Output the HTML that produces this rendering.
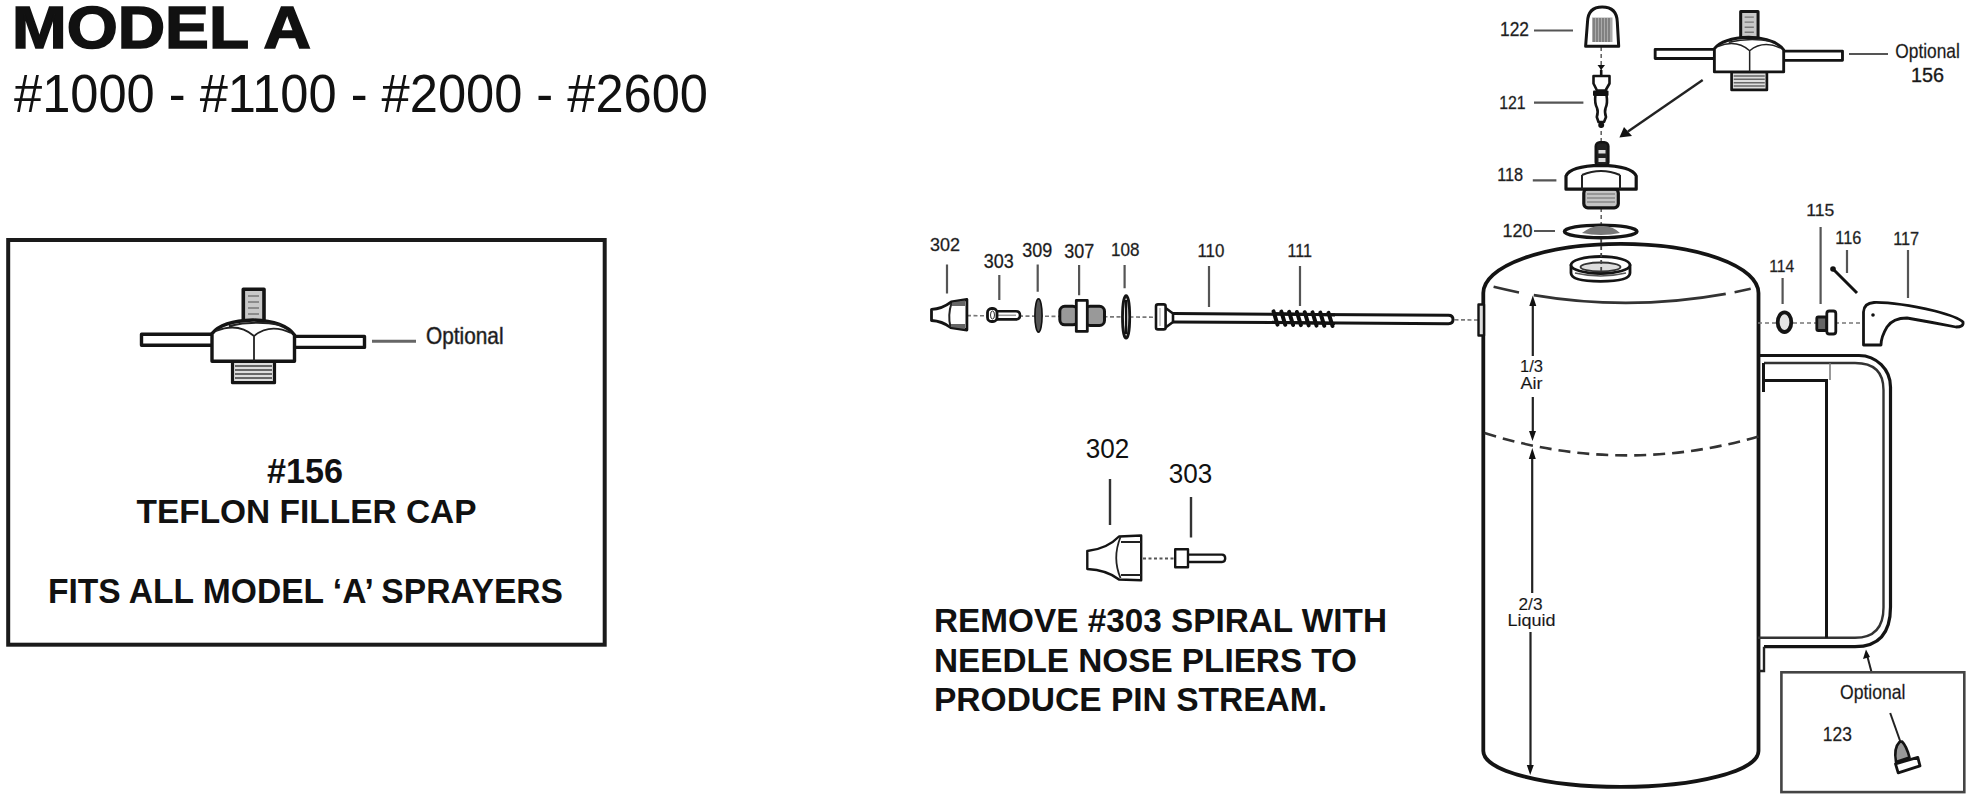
<!DOCTYPE html>
<html><head><meta charset="utf-8">
<style>
html,body{margin:0;padding:0;background:#fff;width:1973px;height:800px;overflow:hidden}
svg{position:absolute;left:0;top:0;display:block}
text{font-family:"Liberation Sans",sans-serif;fill:#111}
.b{font-weight:700}
.l{font-size:20px;fill:#505050;stroke:#505050;stroke-width:0.35}
.g{fill:none;stroke:#555;stroke-width:2.2}
.k{stroke:#141414;stroke-linejoin:round;stroke-linecap:round}
</style></head><body>
<svg width="1973" height="800" viewBox="0 0 1973 800">
<defs>
<g id="cap">
  <path class="k" d="M211.5,334.3 H141.5 V345.3 H211.5" fill="#fff" stroke-width="3.4"/>
  <path class="k" d="M294.5,336.4 H364.5 V347.4 H294.5" fill="#fff" stroke-width="3.4"/>
  <rect class="k" x="243.3" y="289.3" width="20.7" height="31.5" fill="#c8c8c8" stroke-width="3.6"/>
  <path d="M248,296 h11 M248,302 h11 M248,308 h11 M248,314 h11" stroke="#777" stroke-width="1.6"/>
  <rect class="k" x="232.5" y="361.2" width="42" height="21.5" fill="#ddd" stroke-width="3.2"/>
  <path d="M235,366 h37 M235,370 h37 M235,374 h37 M235,378 h37" stroke="#666" stroke-width="1.8"/>
  <path class="k" d="M212,361.2 V333.6 Q222,321 253,320 Q284,321 294.5,335 V361.2 Z" fill="#fff" stroke-width="3.4"/>
  <path d="M254,336 V361 M216,331 Q238,322 254,336 Q270,323 291,333 M229,326 Q254,320 281,325" stroke="#222" stroke-width="1.8" fill="none"/>
</g>
</defs>

<!-- ===== TEXTS ===== -->
<text class="b" x="12" y="47.5" font-size="60" textLength="299" lengthAdjust="spacingAndGlyphs" stroke="#111" stroke-width="1.6">MODEL A</text>
<text x="14" y="112" font-size="53.5" textLength="694" lengthAdjust="spacingAndGlyphs">#1000 - #1100 - #2000 - #2600</text>
<text class="b" x="267" y="482.5" font-size="34.5" textLength="76" lengthAdjust="spacingAndGlyphs">#156</text>
<text class="b" x="136.5" y="522.5" font-size="34" textLength="340" lengthAdjust="spacingAndGlyphs">TEFLON FILLER CAP</text>
<text class="b" x="48" y="602.5" font-size="34.5" textLength="515" lengthAdjust="spacingAndGlyphs">FITS ALL MODEL ‘A’ SPRAYERS</text>
<text class="b" x="934" y="631.5" font-size="34" textLength="453" lengthAdjust="spacingAndGlyphs">REMOVE #303 SPIRAL WITH</text>
<text class="b" x="934" y="671.5" font-size="34" textLength="423" lengthAdjust="spacingAndGlyphs">NEEDLE NOSE PLIERS TO</text>
<text class="b" x="934" y="711" font-size="34" textLength="393" lengthAdjust="spacingAndGlyphs">PRODUCE PIN STREAM.</text>

<!-- ===== LEFT BOX ===== -->
<rect x="8.2" y="240" width="596.5" height="404.7" fill="none" stroke="#1a1a1a" stroke-width="4"/>
<use href="#cap"/>
<line x1="372" y1="341.3" x2="416" y2="341.3" stroke="#666" stroke-width="3"/>
<text x="426" y="343.8" font-size="24" textLength="77.5" lengthAdjust="spacingAndGlyphs" fill="#4a4a4a" stroke="#4a4a4a" stroke-width="0.6">Optional</text>

<!-- ===== TOP-RIGHT CAP ===== -->
<use href="#cap" transform="translate(1536.3,-231.5) scale(0.84)"/>
<line x1="1849" y1="54" x2="1888" y2="54" stroke="#555" stroke-width="2.2"/>
<text x="1895.3" y="57.5" font-size="20.5" textLength="64.5" lengthAdjust="spacingAndGlyphs" fill="#555" stroke="#555" stroke-width="0.3">Optional</text>
<text x="1911" y="81.8" font-size="20.5" textLength="33" lengthAdjust="spacingAndGlyphs" fill="#333" stroke="#333" stroke-width="0.4">156</text>
<!-- arrow -->
<line x1="1702.7" y1="80.1" x2="1628" y2="131.5" stroke="#222" stroke-width="2.4"/>
<path d="M1619.4,137.5 L1624,127 L1632,136 Z" fill="#111"/>

<!-- ===== TOP NOZZLE LINE ===== -->
<line x1="967" y1="315.6" x2="1478" y2="320" stroke="#777" stroke-width="1.6" stroke-dasharray="4 2.5"/>
<!-- 302 -->
<path class="k" d="M966.9,299.4 V330 L950.5,327.5 Q942,321 931.5,320.5 V309.4 Q942,309 951.3,301.9 Z" fill="#fff" stroke-width="2.8"/>
<path d="M951.5,303 Q947.5,315.6 950.5,327" stroke="#222" stroke-width="2" fill="none"/>
<path d="M952,302.5 L965,300.5 V306 H952 Z M951,324 H965 V329 L951,327 Z" fill="#666"/>
<!-- 303 -->
<path class="k" d="M997,311.2 H1016 Q1020,311.2 1020,315.3 Q1020,319.4 1016,319.4 H997" fill="#fff" stroke-width="2.6"/>
<line x1="998" y1="315.3" x2="1016" y2="315.3" stroke="#999" stroke-width="1.5"/>
<rect class="k" x="987.5" y="308.5" width="9.5" height="13" rx="4" fill="#fff" stroke-width="2.8"/>
<ellipse cx="992.5" cy="315" rx="2" ry="4" fill="#fff" stroke="#333" stroke-width="1"/>
<!-- 309 -->
<ellipse cx="1038.5" cy="315.5" rx="3.6" ry="16.6" fill="#555" stroke="#111" stroke-width="1.6"/>
<!-- 307 -->
<rect class="k" x="1059.8" y="306.3" width="18" height="18.5" rx="5" fill="#999" stroke-width="3"/>
<rect class="k" x="1085" y="306.3" width="19.5" height="19.2" rx="5" fill="#999" stroke-width="3"/>
<rect class="k" x="1076.3" y="300.4" width="11" height="31" fill="#fff" stroke-width="2.8"/>
<rect x="1079.5" y="310" width="5" height="13" fill="#fff"/>
<!-- 108 -->
<ellipse class="k" cx="1126.1" cy="316.9" rx="3.6" ry="21.3" fill="#fff" stroke-width="2.8"/>
<line x1="1126.1" y1="300" x2="1126.1" y2="334" stroke="#111" stroke-width="2.4"/>
<!-- 110 -->
<path class="k" d="M1173,313.5 L1448.5,315.3 Q1453,315.3 1453,319.5 Q1453,323.7 1448.5,323.7 L1173,322" fill="#fff" stroke-width="3"/>
<path class="k" d="M1165.6,308 L1173,313.5 V322 L1165.6,327.5" fill="#fff" stroke-width="2.6"/>
<rect class="k" x="1156" y="304.4" width="9.6" height="25" rx="2" fill="#fff" stroke-width="2.6"/>
<line x1="1160" y1="308" x2="1160" y2="326" stroke="#aaa" stroke-width="1.2"/>
<!-- 111 spring -->
<g stroke="#0d0d0d" stroke-width="4" stroke-linecap="round">
<line x1="1273.5" y1="311.4" x2="1277.5" y2="324.6"/>
<line x1="1281.3" y1="311.6" x2="1285.3" y2="324.8"/>
<line x1="1289.1" y1="311.8" x2="1293.1" y2="325.0"/>
<line x1="1296.9" y1="312.0" x2="1300.9" y2="325.2"/>
<line x1="1304.7" y1="312.2" x2="1308.7" y2="325.4"/>
<line x1="1312.5" y1="312.4" x2="1316.5" y2="325.6"/>
<line x1="1320.3" y1="312.6" x2="1324.3" y2="325.8"/>
<line x1="1328.5" y1="312.8" x2="1332.5" y2="326.0"/>
</g>
<line x1="1272" y1="313.6" x2="1335" y2="315" stroke="#111" stroke-width="3"/>
<line x1="1272" y1="322.2" x2="1335" y2="323.6" stroke="#111" stroke-width="3"/>

<!-- top line labels -->
<g class="l">
<text x="930" y="251" textLength="30" lengthAdjust="spacingAndGlyphs" font-size="18.5">302</text>
<text x="983.8" y="268.3" textLength="30" lengthAdjust="spacingAndGlyphs" font-size="20">303</text>
<text x="1022.3" y="257.4" textLength="30" lengthAdjust="spacingAndGlyphs" font-size="19.5">309</text>
<text x="1064.3" y="258" textLength="30" lengthAdjust="spacingAndGlyphs" font-size="20">307</text>
<text x="1110.9" y="256.4" textLength="28.5" lengthAdjust="spacingAndGlyphs" font-size="18.5">108</text>
<text x="1197.4" y="257.2" textLength="27" lengthAdjust="spacingAndGlyphs" font-size="17.5">110</text>
<text x="1287.4" y="257.2" textLength="24.5" lengthAdjust="spacingAndGlyphs" font-size="17.5">111</text>
</g>
<g class="g">
<path d="M947,264.4 V293.5 M999.3,275 V300 M1037.7,264.4 V291.8 M1079.1,265 V295.3 M1124.6,265 V288.3 M1209,266 V307 M1300,266 V306"/>
</g>

<!-- ===== MIDDLE 302/303 ===== -->
<text x="1085.8" y="458" font-size="27.5" textLength="43.5" lengthAdjust="spacingAndGlyphs" fill="#333">302</text>
<text x="1168.8" y="483.4" font-size="27.5" textLength="43.5" lengthAdjust="spacingAndGlyphs" fill="#333">303</text>
<path d="M1110,479 V525 M1191,497 V537.6" stroke="#333" stroke-width="2.4"/>
<line x1="1143" y1="558.5" x2="1174" y2="558.5" stroke="#555" stroke-width="1.8" stroke-dasharray="3 2.5"/>
<path class="k" d="M1141.2,535.5 V580.2 L1119,579.5 Q1107,570 1087.3,569 V551 Q1107,549 1119,536.5 Z" fill="#fff" stroke-width="2.4"/>
<path d="M1120.5,537 Q1112,558 1120.5,578 M1121,542 H1141 M1121,575 H1141" stroke="#222" stroke-width="1.8" fill="none"/>
<path class="k" d="M1188,554.6 H1222 Q1225.2,554.6 1225.2,558.3 Q1225.2,562 1222,562 H1188" fill="#fff" stroke-width="2.4"/>
<rect class="k" x="1175.2" y="549.2" width="12.8" height="18" fill="#fff" stroke-width="2.4"/>

<!-- ===== VERTICAL STACK ===== -->
<line x1="1601.2" y1="47" x2="1601.2" y2="260" stroke="#666" stroke-width="1.6" stroke-dasharray="4 3"/>
<!-- 122 -->
<path class="k" d="M1585.6,46.3 L1587.5,22 Q1588,7 1602.2,7 Q1616.8,7 1617.3,22 L1618.7,46.3 Z" fill="#fff" stroke-width="3"/>
<rect x="1592" y="17.5" width="20.5" height="24.5" fill="#aaa"/>
<path d="M1594,18 V42 M1597,18 V42 M1600,18 V42 M1603,18 V42 M1606,18 V42 M1609,18 V42" stroke="#666" stroke-width="1.2"/>
<path d="M1597.5,65 H1605 L1601.2,70 Z" fill="#111"/>
<!-- 121 -->
<line x1="1601.2" y1="70" x2="1601.2" y2="76" stroke="#111" stroke-width="2.6"/>
<path class="k" d="M1593.5,76 H1609.5 V83.5 L1605.5,90.5 H1597 L1593.5,83.5 Z" fill="#fff" stroke-width="2.6"/>
<rect x="1593" y="90.5" width="15.5" height="5.5" rx="1" fill="#111"/>
<path class="k" d="M1595.3,96 Q1594.5,103 1597,108 Q1598.5,112 1596.8,117 L1598.5,122 H1604 L1606,117 Q1604.2,112 1605.6,108 Q1607.8,103 1606.6,96" fill="#fff" stroke-width="2.6"/>
<circle cx="1601.2" cy="125" r="3" fill="#111"/>
<!-- 118 -->
<rect class="k" x="1595.8" y="142.3" width="12.5" height="24" rx="4" fill="#222" stroke-width="2.6"/>
<rect x="1598.5" y="150" width="7" height="3.5" fill="#ddd"/>
<rect x="1598.5" y="158" width="7" height="4" fill="#ddd"/>
<rect class="k" x="1583.8" y="189" width="34.5" height="18.8" rx="4" fill="#c4c4c4" stroke-width="3.2"/>
<path d="M1587,194 h28 M1587,198 h28 M1587,202 h28" stroke="#888" stroke-width="1.3"/>
<path class="k" d="M1566,189.2 V176 Q1570,166 1601,165.3 Q1632,166 1636.2,176 V189.2 Z" fill="#fff" stroke-width="3.2"/>
<path d="M1582,175 V189 M1620,175 V189 M1582,175 Q1601,167 1620,175" stroke="#222" stroke-width="2" fill="none"/>
<!-- 120 -->
<ellipse class="k" cx="1600.7" cy="231.4" rx="36.3" ry="6.3" fill="#fff" stroke-width="3.4"/>
<path d="M1582,233 Q1592,225 1601,226 Q1612,225 1620,233 Q1601,237 1582,233 Z" fill="#777"/>
<!-- stack labels -->
<g class="l">
<text x="1500" y="36" textLength="29" lengthAdjust="spacingAndGlyphs" font-size="20">122</text>
<text x="1499.2" y="109.4" textLength="26.5" lengthAdjust="spacingAndGlyphs" font-size="19">121</text>
<text x="1497.2" y="181.4" textLength="26" lengthAdjust="spacingAndGlyphs" font-size="18">118</text>
<text x="1502.5" y="236.5" textLength="30" lengthAdjust="spacingAndGlyphs" font-size="18">120</text>
</g>
<g class="g">
<path d="M1534,30.5 H1573 M1534,102.6 H1583.4 M1532.8,180.3 H1556.4 M1534,231 H1555"/>
</g>

<!-- ===== TANK ===== -->
<path class="k" d="M1483.3,751 V293 A137.6,49.2 0 0 1 1758.5,293 V751 A137.6,36 0 0 1 1483.3,751 Z" fill="#fff" stroke-width="3.8"/>
<!-- top front arc -->
<path d="M1493.6,286.8 Q1621,318 1750.7,288.8" fill="none" stroke="#333" stroke-width="2.6" stroke-dasharray="26 15 193 9 40"/>
<!-- filler collar -->
<path class="k" d="M1571,265 V273 Q1571,281.3 1600.5,281.3 Q1630,281.3 1630,273 V265" fill="#fff" stroke-width="2.8"/>
<ellipse class="k" cx="1600.5" cy="265" rx="29.5" ry="8.5" fill="#fff" stroke-width="2.8"/>
<ellipse cx="1600.5" cy="267" rx="20" ry="4.5" fill="#ddd" stroke="#333" stroke-width="1.8"/>
<path d="M1575,273 Q1600.5,279 1626,273" fill="none" stroke="#555" stroke-width="1.4"/>
<line x1="1601.2" y1="239" x2="1601.2" y2="272" stroke="#444" stroke-width="1.8" stroke-dasharray="4 3"/>
<!-- side fitting -->
<rect class="k" x="1478.5" y="304.5" width="5.5" height="31" fill="#ddd" stroke-width="2.4"/>
<!-- middle dashed -->
<path d="M1484.5,433 Q1621,476 1758.6,436.5" fill="none" stroke="#333" stroke-width="2.6" stroke-dasharray="12 7"/>
<!-- dimension line -->
<path d="M1532.8,302 V356 M1532.8,397 V434 M1532.2,458 V593 M1530.5,632 V768" stroke="#222" stroke-width="2.2"/>
<path d="M1532.8,295.5 L1529.3,306 H1536.3 Z M1532.5,441 L1529,431 H1536 Z M1532.3,448 L1528.8,459 H1535.8 Z M1530.2,775 L1526.8,765 H1533.8 Z" fill="#111"/>
<g fill="#6a6a6a" font-size="16.5" stroke="#6a6a6a" stroke-width="0.2">
<text x="1520" y="371.5" textLength="23" lengthAdjust="spacingAndGlyphs">1/3</text>
<text x="1520.5" y="388.5" textLength="22" lengthAdjust="spacingAndGlyphs">Air</text>
<text x="1518.5" y="609.5" textLength="24" lengthAdjust="spacingAndGlyphs">2/3</text>
<text x="1507.5" y="625.5" textLength="48" lengthAdjust="spacingAndGlyphs">Liquid</text>
</g>

<!-- ===== HANDLE ===== -->
<path d="M1758,355.5 H1859 A31.5,31.5 0 0 1 1890.5,387 V607 Q1890.5,646.7 1855,646.7 H1764" fill="none" stroke="#141414" stroke-width="3.2"/>
<path d="M1764,363 H1855 Q1883.5,363 1883.5,390 V607.5 Q1883.5,637.8 1855,637.8 H1758" fill="none" stroke="#333" stroke-width="2.4"/>
<path d="M1763.5,363 V392 M1763.5,380.5 H1826.5 V637.8" fill="none" stroke="#141414" stroke-width="3"/>
<line x1="1830" y1="363" x2="1830" y2="380" stroke="#777" stroke-width="1.5"/>
<path d="M1764,646.7 V671 H1759" fill="none" stroke="#222" stroke-width="2.4"/>
<line x1="1871.5" y1="672" x2="1867" y2="655" stroke="#222" stroke-width="2"/>
<path d="M1866,649.5 L1863,659 L1870,657 Z" fill="#111"/>

<!-- ===== RIGHT PARTS ===== -->
<line x1="1758" y1="323" x2="1862" y2="323" stroke="#777" stroke-width="1.6" stroke-dasharray="4 3"/>
<ellipse class="k" cx="1784.5" cy="322.2" rx="6.8" ry="9.8" fill="#e4e4e4" stroke-width="3.8"/>
<rect class="k" x="1816.8" y="317" width="10" height="13.5" rx="1.5" fill="#666" stroke-width="2.8"/>
<rect class="k" x="1826.8" y="311" width="9" height="23" rx="2.5" fill="#fff" stroke-width="2.8"/>
<line x1="1833" y1="269" x2="1857" y2="293" stroke="#111" stroke-width="3"/>
<circle cx="1833" cy="269" r="2.8" fill="#111"/>
<path class="k" d="M1863.5,345 V312 Q1864,303 1874,302.5 Q1895,302 1935,311 Q1958,317 1963,322 Q1964,327 1956,327 Q1930,322 1907,318 Q1893,318 1887,327 Q1881,337 1881,345 Z" fill="#fff" stroke-width="2.8"/>
<circle cx="1873" cy="315" r="1.8" fill="#111"/>
<g class="l">
<text x="1806.3" y="215.5" textLength="28" lengthAdjust="spacingAndGlyphs" font-size="17">115</text>
<text x="1835.3" y="243.5" textLength="26" lengthAdjust="spacingAndGlyphs" font-size="18">116</text>
<text x="1769.2" y="271.5" textLength="25" lengthAdjust="spacingAndGlyphs" font-size="17">114</text>
<text x="1893.2" y="244.5" textLength="26" lengthAdjust="spacingAndGlyphs" font-size="18">117</text>
</g>
<g class="g">
<path d="M1820.6,227 V304 M1847,250 V273 M1782.6,278 V304 M1908,250 V298"/>
</g>

<!-- ===== OPTIONAL BOX 123 ===== -->
<rect x="1781.4" y="672.3" width="182.9" height="119.8" fill="none" stroke="#444" stroke-width="2.6"/>
<text x="1840" y="698.5" font-size="19.5" textLength="65.5" lengthAdjust="spacingAndGlyphs" fill="#555" stroke="#555" stroke-width="0.3">Optional</text>
<text x="1822.8" y="741.2" font-size="20" textLength="29" lengthAdjust="spacingAndGlyphs" fill="#555" stroke="#555" stroke-width="0.3">123</text>
<line x1="1890.2" y1="713" x2="1900.5" y2="742" stroke="#222" stroke-width="2"/>
<path class="k" d="M1899.5,742 Q1893.5,748 1896,762 L1909.5,757.5 Q1906.5,746 1902,741.5 Z" fill="#999" stroke-width="2.6"/>
<path class="k" d="M1895.5,763.8 L1917.8,757.4 L1920,765.9 L1898.2,772.8 Z" fill="#fff" stroke-width="2.8"/>
</svg>
</body></html>
